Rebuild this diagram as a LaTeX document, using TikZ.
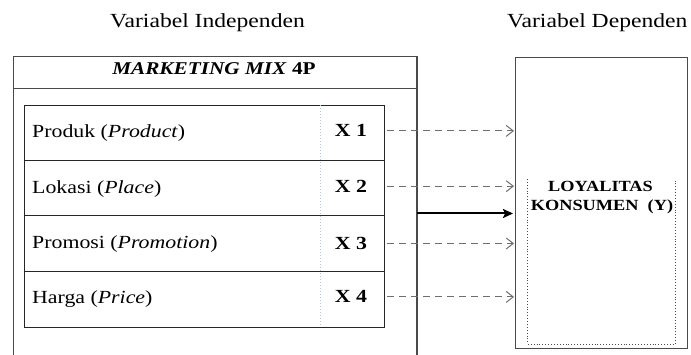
\documentclass[tikz,border=0pt]{standalone}
\usepackage{fontspec}
\usepackage{graphicx}
\setmainfont{Liberation Serif}
\usetikzlibrary{arrows.meta}
\newcommand{\wx}[1]{\scalebox{1.18}[1]{#1}}
\definecolor{boxgray}{HTML}{4A4A4A}
\definecolor{arrgray}{HTML}{6E6E6E}
\definecolor{divblue}{HTML}{B4C6DC}
\tikzset{
  txt/.style={inner sep=0pt, font=\fontsize{18.5}{22}\selectfont},
  hdr/.style={inner sep=0pt, font=\fontsize{20}{24}\selectfont},
  xlab/.style={txt, font=\fontsize{18.5}{22}\selectfont\bfseries},
  ybold/.style={inner sep=0pt, font=\fontsize{15.5}{18}\selectfont\bfseries},
  frame/.style={draw=boxgray, line width=1.2pt},
  tline/.style={draw=black!85, line width=1pt},
  dasharrow/.style={draw=arrgray, line width=1.1pt, dash pattern=on 7pt off 5pt,
    -{Straight Barb[length=7pt,width=11pt,line width=1pt]}},
  boldarrow/.style={draw=black, line width=2pt, -{Stealth[length=10pt,width=9pt,inset=2pt]}},
}
\begin{document}
\begin{tikzpicture}[x=1pt,y=-1pt]
\useasboundingbox (0,0) rectangle (691,355);
% headers
\node[hdr, anchor=base west] (hind) at (110,28) {\wx{Variabel Independen}};
\node[hdr, anchor=base west] (hdep) at (507,28) {\wx{Variabel Dependen}};
% outer box (open at bottom)
\draw[frame] (13.5,356) -- (13.5,56.5) -- (417,56.5) -- (417,356);
\draw[frame] (13.5,88.3) -- (417,88.3);
\node[txt, anchor=base, font=\fontsize{18}{22}\selectfont\bfseries] (title) at (214,75) {\wx{\textit{MARKETING MIX} 4P}};
% table
\node[tline, anchor=north west, minimum width=360.5pt, minimum height=222pt, inner sep=0pt] (tab) at (23.5,105) {};
\draw[tline] (23.5,160.7) -- (384,160.7);
\draw[tline] (23.5,216) -- (384,216);
\draw[tline] (23.5,271.7) -- (384,271.7);
\draw[divblue, line width=1pt, dotted] (320,105.5) -- (320,326.5);
% row labels
\node[txt, anchor=base west] (r1) at (32,137.7) {\wx{Produk (\textit{Product})}};
\node[txt, anchor=base west] (r2) at (32,193.3) {\wx{Lokasi (\textit{Place})}};
\node[txt, anchor=base west] (r3) at (32,248.5) {\wx{Promosi (\textit{Promotion})}};
\node[txt, anchor=base west] (r4) at (32,303.5) {\wx{Harga (\textit{Price})}};
\node[xlab, anchor=base] (x1) at (351,137) {\wx{X 1}};
\node[xlab, anchor=base] (x2) at (351,192.3) {\wx{X 2}};
\node[xlab, anchor=base] (x3) at (351,249.5) {\wx{X 3}};
\node[xlab, anchor=base] (x4) at (351,303) {\wx{X 4}};
% right box
\node[frame, anchor=north west, minimum width=171.7pt, minimum height=291.3pt, inner sep=0pt] (rb) at (515,56.7) {};
\draw[boxgray, line width=0.9pt, dotted] (527.5,179) -- (527.5,344) -- (675.5,344) -- (675.5,179);
\node[ybold, anchor=base] (ly1) at (600.5,191.7) {\wx{LOYALITAS}};
\node[ybold, anchor=base] (ly2) at (602,210.7) {\wx{KONSUMEN\ \ (Y)}};
% arrows
\foreach \i in {1,2,3,4} {
  \draw[dasharrow] ([xshift=2pt]tab.east |- x\i) -- ([xshift=-1pt]rb.west |- x\i);
}
\coordinate (mixE) at (417,213.5);
\draw[boldarrow] (mixE) -- ([xshift=-2pt]rb.west |- mixE);
\end{tikzpicture}
\end{document}
